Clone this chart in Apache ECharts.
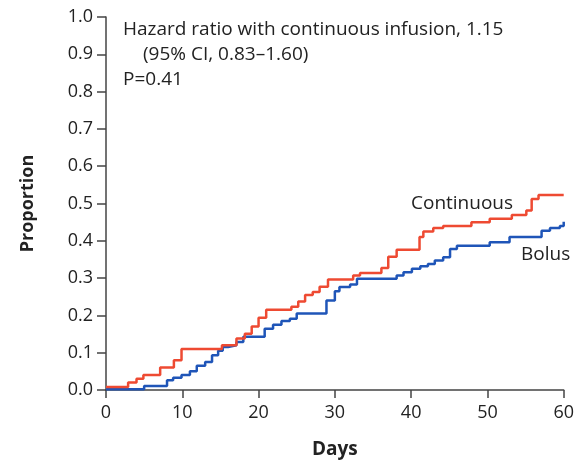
<!DOCTYPE html>
<html>
<head>
<meta charset="utf-8">
<script src="https://cdn.jsdelivr.net/npm/echarts@6/dist/echarts.min.js"></script>
<style>
  html, body { margin: 0; padding: 0; background: #fff; }
  #chart { width: 577px; height: 464px; }
</style>
</head>
<body>
<div id="chart"></div>
<script>
// Kaplan-Meier style cumulative proportion, [day, proportion]
const continuousSteps = [
  [0, 0.008], [2.9, 0.02], [4, 0.03], [4.9, 0.04], [7.1, 0.06], [8.9, 0.08],
  [9.9, 0.11], [15.2, 0.12], [17.1, 0.138], [18.2, 0.151], [19.1, 0.17],
  [20, 0.194], [21, 0.215], [24.3, 0.223], [25.2, 0.237], [26.1, 0.255],
  [27.1, 0.263], [28, 0.277], [29.1, 0.296], [32.4, 0.307], [33.3, 0.314],
  [36.1, 0.327], [37, 0.357], [38.1, 0.376], [41.1, 0.41], [41.6, 0.425],
  [42.9, 0.434], [44.2, 0.44], [47.9, 0.45], [50.3, 0.459], [53.2, 0.469],
  [55.1, 0.481], [55.8, 0.512], [56.7, 0.523], [60, 0.523]
];
const bolusSteps = [
  [0, 0.002], [5, 0.011], [8, 0.026], [8.8, 0.033], [9.9, 0.04], [11, 0.05],
  [11.9, 0.065], [13, 0.075], [13.9, 0.093], [14.7, 0.105], [15.3, 0.115],
  [16, 0.12], [17.1, 0.129], [18, 0.143], [20.8, 0.164], [21.9, 0.175],
  [23, 0.185], [24.1, 0.191], [25, 0.205], [28.9, 0.24], [30, 0.265],
  [30.6, 0.276], [32, 0.283], [32.9, 0.298], [38.1, 0.307], [39, 0.316],
  [40.1, 0.325], [41.2, 0.332], [42.2, 0.338], [43.1, 0.347], [44.2, 0.356],
  [45.1, 0.378], [46, 0.387], [50.3, 0.396], [52.9, 0.41], [57.1, 0.427],
  [58.2, 0.434], [59.5, 0.44], [60, 0.451]
];
const annotationLines = [
  'Hazard ratio with continuous infusion, 1.15',
  '(95% CI, 0.83\u20131.60)',
  'P=0.41'
];

const FONT = 'Open Sans';
const INK = '#222';
const AXIS = '#444';

const chart = echarts.init(document.getElementById('chart'));

// plain text note, left-aligned, vertically centred on y
const note = (text, x, y) => ({
  type: 'text',
  x: x,
  y: y,
  style: {
    text: text,
    font: '19px "Open Sans"',
    fill: INK,
    textAlign: 'left',
    textVerticalAlign: 'middle'
  }
});

chart.setOption({
  animation: false,
  textStyle: { fontFamily: FONT },
  grid: { left: 106, top: 17, right: 12, bottom: 72 },
  xAxis: {
    type: 'value',
    min: 0,
    max: 60,
    interval: 10,
    name: 'Days',
    nameLocation: 'middle',
    nameGap: 50,
    nameTextStyle: { fontFamily: FONT, fontWeight: 'bold', fontSize: 19, color: INK },
    axisLine: { lineStyle: { color: AXIS, width: 1.5 } },
    axisTick: { show: true, length: 8, lineStyle: { color: AXIS, width: 1.5 } },
    axisLabel: { fontSize: 18, color: INK, margin: 14 },
    splitLine: { show: false }
  },
  yAxis: {
    type: 'value',
    min: 0,
    max: 1,
    interval: 0.1,
    name: 'Proportion',
    nameLocation: 'middle',
    nameGap: 69,
    nameRotate: 90,
    nameTextStyle: { fontFamily: FONT, fontWeight: 'bold', fontSize: 18, color: INK },
    axisLine: { show: true, lineStyle: { color: AXIS, width: 1.5 } },
    axisTick: { show: true, length: 9, lineStyle: { color: AXIS, width: 1.5 } },
    axisLabel: { fontSize: 18, color: INK, margin: 13, formatter: (v) => v.toFixed(1) },
    splitLine: { show: false }
  },
  series: [
    {
      name: 'Continuous',
      type: 'line',
      step: 'end',
      showSymbol: false,
      data: continuousSteps,
      lineStyle: { color: '#ee4a32', width: 2.5 },
      z: 3
    },
    {
      name: 'Bolus',
      type: 'line',
      step: 'end',
      showSymbol: false,
      data: bolusSteps,
      lineStyle: { color: '#1f55b8', width: 2.5 },
      z: 2
    }
  ],
  graphic: [
    note(annotationLines[0], 123, 30),
    note(annotationLines[1], 143, 54.5),
    note(annotationLines[2], 123, 79.5),
    note('Continuous', 411, 204),
    note('Bolus', 521, 255)
  ]
});
</script>
</body>
</html>
